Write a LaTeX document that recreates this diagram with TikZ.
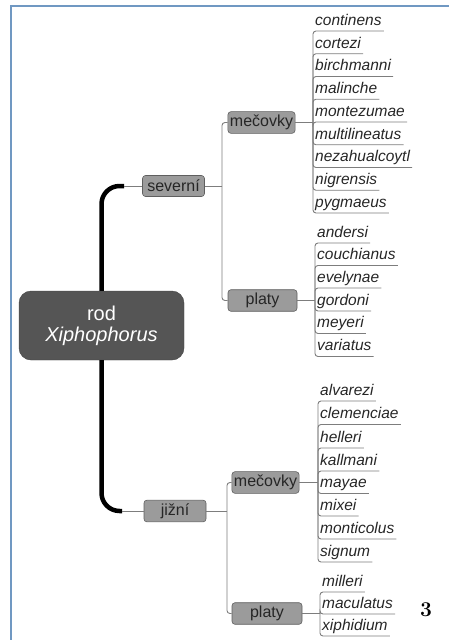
\documentclass[tikz,border=0pt]{standalone}
\usepackage{fontspec}
\setsansfont{Liberation Sans}
\usepackage{tikz}
\usepackage{amssymb}
\usepackage{amsmath}

\definecolor{framecol}{RGB}{112,152,194}
\definecolor{rootcol}{RGB}{85,85,85}
\definecolor{boxcol}{RGB}{155,155,155}
\definecolor{edgecol}{RGB}{95,95,95}
\definecolor{twigcol}{RGB}{125,125,125}

\begin{document}
\begin{tikzpicture}[x=1pt,y=-1pt,
  rootbox/.style={draw=rootcol!80!black, fill=rootcol, rounded corners=12pt, minimum width=165pt, minimum height=69pt, align=center, text=white, font=\fontsize{20}{21}\selectfont\sffamily},
  group/.style={draw=edgecol, fill=boxcol, rounded corners=3pt, line width=0.6pt, inner xsep=2pt, minimum width=62pt, minimum height=21pt, text=black!85, font=\fontsize{16}{18}\selectfont\sffamily},
  leaf/.style={anchor=south west, inner xsep=2pt, inner ysep=2pt, text height=11pt, text depth=3.5pt, text=black!85, font=\fontsize{15.5}{18}\selectfont\sffamily\itshape},
  twig/.style={draw=twigcol, line width=0.9pt, rounded corners=3pt},
  trunk/.style={draw=black, line width=4.5pt, rounded corners=18pt}]
\useasboundingbox (0,0) rectangle (449,640);
\path[draw=framecol,line width=1.6pt] (449,6) -- (11,6) -- (11,640);

\node[rootbox] (rod) at (101.5,325.5) {rod\\\textit{Xiphophorus}};

\node[group] (sev) at (173.5,186) {severní};
\node[group] (jiz) at (175,511) {jižní};

\node[group] (sevmec) at (261.5,122.5) {mečovky};
\node[group, minimum width=69pt] (sevpla) at (262.5,300.5) {platy};
\node[group] (jizmec) at (265.5,482.5) {mečovky};
\node[group, minimum width=70pt] (jizpla) at (267,613.5) {platy};

\coordinate (sevknee) at (124,186);
\coordinate (jizknee) at (122,511);
\coordinate (sevhub) at (222,186);
\coordinate (jizhub) at (227,511);
\coordinate (sevmechub) at (313,122.5);
\coordinate (sevplahub) at (315,300.5);
\coordinate (jizmechub) at (318,482.5);
\coordinate (jizplahub) at (320,613.5);

% severni - mecovky
\node[leaf] (continens) at (313,31) {continens};
\node[leaf] (cortezi) at (313,53.75) {cortezi};
\node[leaf] (birchmanni) at (313,76.5) {birchmanni};
\node[leaf] (malinche) at (313,99.25) {malinche};
\node[leaf] (montezumae) at (313,122) {montezumae};
\node[leaf] (multilineatus) at (313,144.75) {multilineatus};
\node[leaf] (nezahualcoytl) at (313,167.5) {nezahualcoytl};
\node[leaf] (nigrensis) at (313,190.25) {nigrensis};
\node[leaf] (pygmaeus) at (313,213) {pygmaeus};

% severni - platy
\node[leaf] (andersi) at (315,243) {andersi};
\node[leaf] (couchianus) at (315,265.5) {couchianus};
\node[leaf] (evelynae) at (315,288) {evelynae};
\node[leaf] (gordoni) at (315,311) {gordoni};
\node[leaf] (meyeri) at (315,333.5) {meyeri};
\node[leaf] (variatus) at (315,356.5) {variatus};

% jizni - mecovky
\node[leaf] (alvarezi) at (318,401) {alvarezi};
\node[leaf] (clemenciae) at (318,424.5) {clemenciae};
\node[leaf] (helleri) at (318,448) {helleri};
\node[leaf] (kallmani) at (318,471) {kallmani};
\node[leaf] (mayae) at (318,493.5) {mayae};
\node[leaf] (mixei) at (318,516) {mixei};
\node[leaf] (monticolus) at (318,539) {monticolus};
\node[leaf] (signum) at (318,562) {signum};

% jizni - platy
\node[leaf] (milleri) at (320,592) {milleri};
\node[leaf] (maculatus) at (320,614) {maculatus};
\node[leaf] (xiphidium) at (320,636) {xiphidium};

\node[font=\fontsize{21}{22}\selectfont\bfseries] (strana) at (426,610) {3};

\path[trunk] (rod.north) |- (sevknee);
\path[trunk] (rod.south) |- (jizknee);
\path[twig] (sevknee) -- (sev.west);
\path[twig] (jizknee) -- (jiz.west);

\path[twig] (sev.east) -- (sevhub);
\path[twig] (sevhub) |- (sevmec.west);
\path[twig] (sevhub) |- (sevpla.west);
\path[twig] (jiz.east) -- (jizhub);
\path[twig] (jizhub) |- (jizmec.west);
\path[twig] (jizhub) |- (jizpla.west);

\path[twig] (sevmec.east) -- (sevmechub);
\path[twig] (sevpla.east) -- (sevplahub);
\path[twig] (jizmec.east) -- (jizmechub);
\path[twig] (jizpla.east) -- (jizplahub);

\path[twig] (sevmechub) |- (continens.south east);
\path[twig] (sevmechub) |- (cortezi.south east);
\path[twig] (sevmechub) |- (birchmanni.south east);
\path[twig] (sevmechub) |- (malinche.south east);
\path[twig] (sevmechub) |- (montezumae.south east);
\path[twig] (sevmechub) |- (multilineatus.south east);
\path[twig] (sevmechub) |- (nezahualcoytl.south east);
\path[twig] (sevmechub) |- (nigrensis.south east);
\path[twig] (sevmechub) |- (pygmaeus.south east);

\path[twig] (sevplahub) |- (andersi.south east);
\path[twig] (sevplahub) |- (couchianus.south east);
\path[twig] (sevplahub) |- (evelynae.south east);
\path[twig] (sevplahub) |- (gordoni.south east);
\path[twig] (sevplahub) |- (meyeri.south east);
\path[twig] (sevplahub) |- (variatus.south east);

\path[twig] (jizmechub) |- (alvarezi.south east);
\path[twig] (jizmechub) |- (clemenciae.south east);
\path[twig] (jizmechub) |- (helleri.south east);
\path[twig] (jizmechub) |- (kallmani.south east);
\path[twig] (jizmechub) |- (mayae.south east);
\path[twig] (jizmechub) |- (mixei.south east);
\path[twig] (jizmechub) |- (monticolus.south east);
\path[twig] (jizmechub) |- (signum.south east);

\path[twig] (jizplahub) |- (milleri.south east);
\path[twig] (jizplahub) |- (maculatus.south east);
\path[twig] (jizplahub) |- (xiphidium.south east);
\end{tikzpicture}
\end{document}
